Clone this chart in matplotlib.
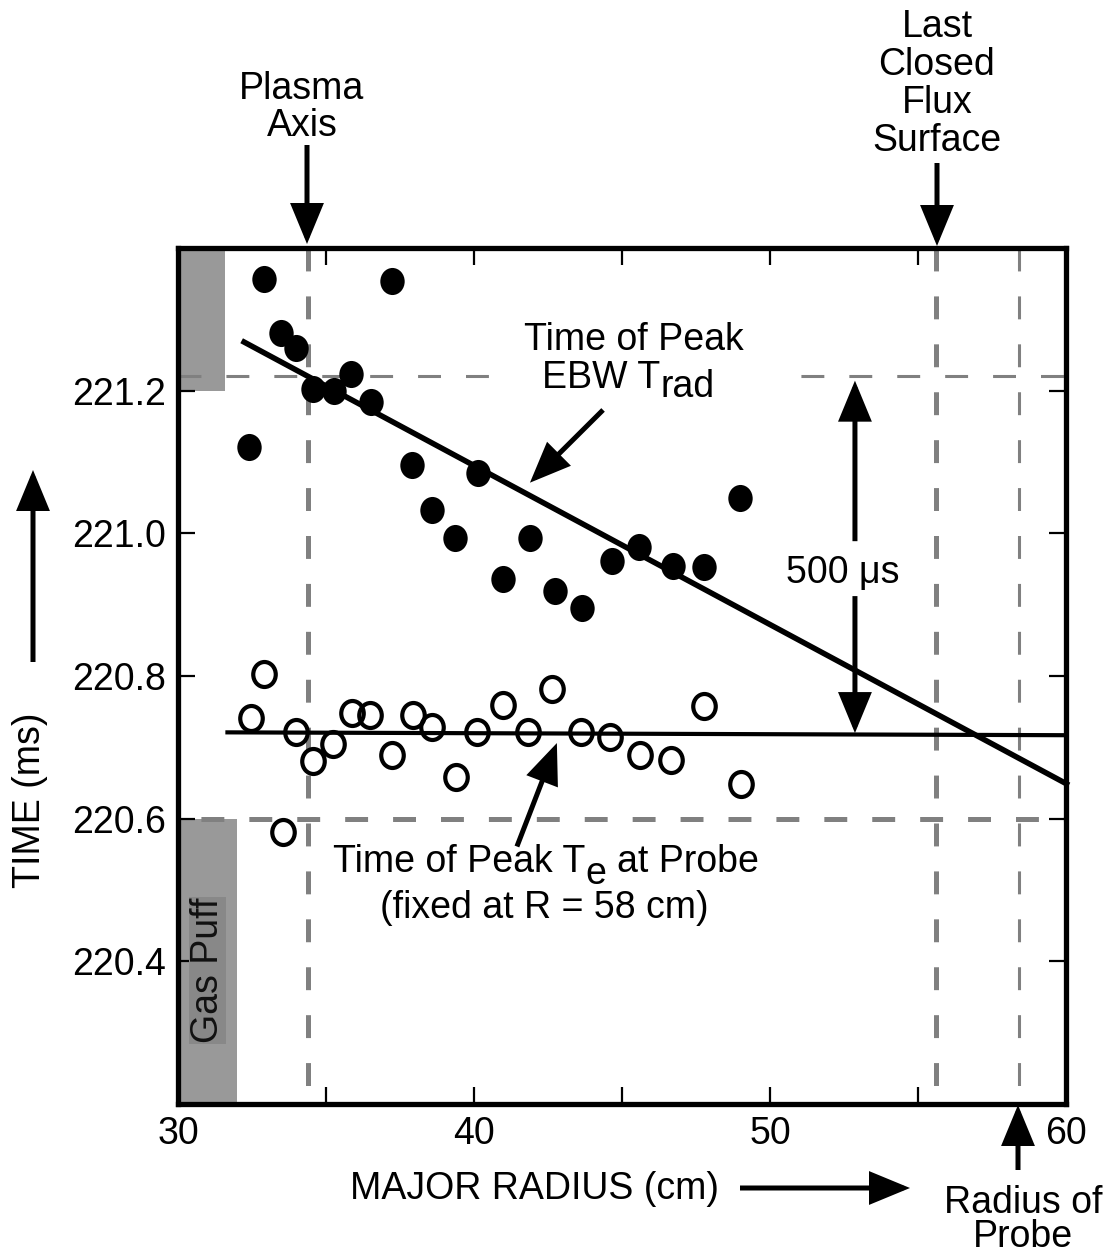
import matplotlib
matplotlib.use("Agg")
import numpy as np
import matplotlib.pyplot as plt
from matplotlib.patches import FancyArrowPatch, Rectangle
from matplotlib.path import Path

W, H = 1111, 1255
FS = 27

# solid dots: time of peak EBW Trad
filled_r = [32.41, 32.91, 33.48, 33.98, 34.56, 35.27, 35.84, 36.52, 37.23, 37.92, 38.59,
            39.36, 40.14, 40.98, 41.89, 42.74, 43.64, 44.66, 45.58, 46.73, 47.77, 48.99]
filled_t = [221.121, 221.357, 221.281, 221.260, 221.203, 221.200, 221.223, 221.184, 221.354,
            221.096, 221.033, 220.994, 221.084, 220.936, 220.994, 220.919, 220.895, 220.961,
            220.981, 220.954, 220.953, 221.049]

# open circles: time of peak Te at probe
open_r = [32.47, 32.92, 33.54, 33.99, 34.57, 35.25, 35.89, 36.49, 37.22, 37.95, 38.59,
          39.38, 40.11, 40.99, 41.81, 42.65, 43.61, 44.59, 45.61, 46.66, 47.77, 49.02]
open_t = [220.741, 220.803, 220.582, 220.722, 220.681, 220.704, 220.748, 220.745, 220.689,
          220.746, 220.729, 220.659, 220.722, 220.760, 220.722, 220.782, 220.722, 220.714,
          220.689, 220.682, 220.758, 220.648]

# fitted lines (end points)
fit_filled_r = [32.15, 60.10]
fit_filled_t = [221.270, 220.647]
fit_open_r = [31.60, 60.00]
fit_open_t = [220.721, 220.717]

# reference positions
axis_r = 34.4
lcfs_r = 55.6
probe_r = 58.4
t_upper = 221.22
t_lower = 220.60

# gas puff shading (r end, t start, t end)
puff_r_end = [31.6, 32.0]
puff_t_lo = [221.2, 220.2]
puff_t_hi = [221.4, 220.6]

xticks = [30, 35, 40, 45, 50, 55, 60]
xticklabels = ["30", "", "40", "", "50", "", "60"]
yticks = [220.4, 220.6, 220.8, 221.0, 221.2]
yticklabels = ["220.4", "220.6", "220.8", "221.0", "221.2"]

plt.rcParams["font.family"] = ["Liberation Sans", "DejaVu Sans"]
plt.rcParams["lines.scale_dashes"] = False

fig = plt.figure(figsize=(W / 100, H / 100), dpi=100)
ax = fig.add_axes([178 / W, 1 - 1104 / H, 888 / W, 856 / H])
ax.set_xlim(30, 60)
ax.set_ylim(220.2, 221.4)

for sp in ax.spines.values():
    sp.set_linewidth(3.8)
ax.tick_params(direction="in", length=12, width=1.6, top=True, right=True,
               labelsize=FS, pad=9)
ax.set_xticks(xticks)
ax.set_xticklabels(xticklabels)
ax.set_yticks(yticks)
ax.set_yticklabels(yticklabels)

# gas puff boxes
for re, lo, hi in zip(puff_r_end, puff_t_lo, puff_t_hi):
    ax.add_patch(Rectangle((30, lo), re - 30, hi - lo, facecolor="#999999",
                           edgecolor="none", zorder=1))
ax.text(31.0, 220.387, "Gas Puff", rotation=90, ha="center", va="center",
        fontsize=FS, color="#111111", zorder=2,
        bbox=dict(facecolor="#888888", edgecolor="none", pad=0.5))

# dashed reference lines
DASH = (16.5, 18)
GRAY = "#808080"
for r, lw in [(axis_r, 3.6), (lcfs_r, 3.6), (probe_r, 2.2)]:
    ax.plot([r, r], [221.4, 220.2], color=GRAY, lw=lw, dashes=DASH, zorder=1.5)
ax.plot([30, 60], [t_upper, t_upper], color=GRAY, lw=2.2, dashes=DASH, zorder=1.5)
ax.plot([30, 60], [t_lower, t_lower], color=GRAY, lw=3.6, zorder=1.5,
        linestyle=(18, DASH))

# fit lines
ax.plot(fit_filled_r, fit_filled_t, color="k", lw=4.0, solid_capstyle="butt",
        clip_on=False, zorder=3)
ax.plot(fit_open_r, fit_open_t, color="k", lw=3.0, solid_capstyle="butt",
        clip_on=False, zorder=3)

# markers (slightly tall ellipses)
circ = Path.unit_circle()
ell = Path(circ.vertices * np.array([0.9, 1.0]), circ.codes)
ax.plot(filled_r, filled_t, ls="none", marker=ell, ms=19.5, mfc="k", mec="k",
        mew=0, zorder=4)
ax.plot(open_r, open_t, ls="none", marker=ell, ms=18, mfc="none", mec="k",
        mew=3, zorder=4)


def fp(px, py):
    return (px / W, 1 - py / H)


def arrow(tail, head, transform, lw=3.6, hl=23, hw=9.5):
    a = FancyArrowPatch(tail, head, transform=transform,
                        arrowstyle=f"-|>,head_length={hl},head_width={hw}",
                        mutation_scale=1, lw=lw, color="k", shrinkA=0, shrinkB=0,
                        joinstyle="miter", capstyle="butt", clip_on=False, zorder=5)
    fig.add_artist(a)


renderer = fig.canvas.get_renderer()


def text_width(s):
    t = fig.text(0, 0, s, fontsize=FS)
    w = t.get_window_extent(renderer=renderer).width
    t.remove()
    return w


SPACE = text_width("a a") - text_width("aa")


def rich_line(cx, base, parts):
    # parts: (string, drop in px, space before)
    widths = [text_width(s) for s, _, _ in parts]
    total = sum(widths) + SPACE * sum(1 for p in parts if p[2])
    x = cx - total / 2
    for (s, dy, sp), w in zip(parts, widths):
        if sp:
            x += SPACE
        fig.text(*fp(x, base + dy), s, fontsize=FS, ha="left", va="baseline",
                 zorder=6)
        x += w


def ctext(cx, base, s, **kw):
    fig.text(*fp(cx, base), s, fontsize=FS, ha="center", va="baseline", zorder=6, **kw)


# top labels
ctext(302, 99, "Plasma")
ctext(302, 136, "Axis")
arrow(fp(307, 145), fp(307, 244), fig.transFigure)

for line, base in zip(["Last", "Closed", "Flux", "Surface"], [37, 75, 113, 151]):
    ctext(937, base, line)
arrow(fp(937, 163), fp(937, 246), fig.transFigure)

# EBW label with white box
fig.add_artist(Rectangle(fp(492, 402), (778 - 492) / W, (402 - 318) / H,
                         transform=fig.transFigure, facecolor="white",
                         edgecolor="none", zorder=1))
ctext(634, 350, "Time of Peak")
rich_line(628, 388, [("EBW T", 0, False), ("rad", 9, False)])
arrow((44.36, 221.173), (41.89, 221.071), ax.transData)

# Te label
rich_line(546, 872, [("Time of Peak T", 0, False), ("e", 12, False), ("at Probe", 0, True)])
ctext(544, 918, "(fixed at R = 58 cm)")
arrow((41.45, 220.561), (42.80, 220.706), ax.transData)

# 500 us
ctext(843, 583, "500 \u03bcs")
arrow((52.87, 220.989), (52.87, 221.214), ax.transData)
arrow((52.87, 220.912), (52.87, 220.720), ax.transData)

# axis labels
fig.text(*fp(30, 800), "TIME (ms)", rotation=90, ha="center", va="center", fontsize=FS)
arrow(fp(33, 662), fp(33, 470), fig.transFigure)

ctext(535, 1199, "MAJOR RADIUS (cm)")
arrow(fp(740, 1188), fp(910, 1188), fig.transFigure)

ctext(1023, 1213, "Radius of")
ctext(1023, 1247, "Probe")
arrow(fp(1018, 1170), fp(1018, 1105), fig.transFigure)

fig.savefig("out.png", dpi=100)
